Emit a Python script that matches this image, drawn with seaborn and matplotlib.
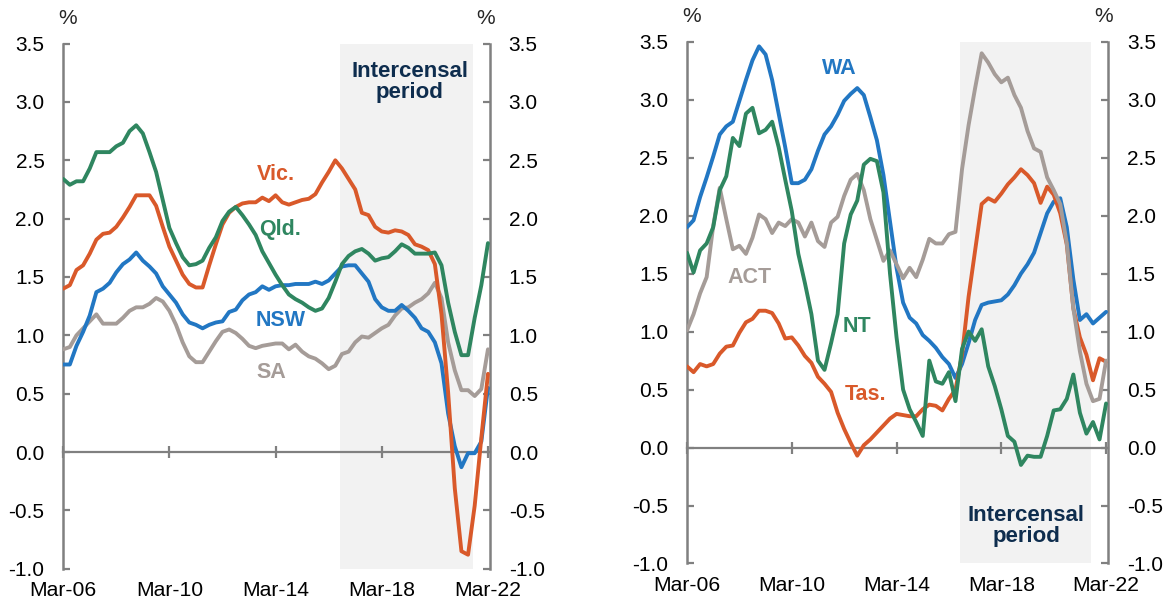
import numpy as np
import pandas as pd
import matplotlib
matplotlib.use("Agg")
import matplotlib.pyplot as plt
from matplotlib.ticker import FormatStrFormatter
import seaborn as sns

# Quarterly observations, Mar-06 to Mar-22
quarters = pd.period_range("2006Q1", "2022Q1", freq="Q")
tick_quarters = ["2006Q1", "2010Q1", "2014Q1", "2018Q1", "2022Q1"]
census_dates = ["2016-08-09", "2021-08-10"]

# Annual population growth, per cent
nsw = [0.75, 0.75, 0.91, 1.03, 1.17, 1.37, 1.40, 1.45, 1.54, 1.61, 1.65, 1.71, 1.64, 1.59, 1.53, 1.42,
       1.35, 1.28, 1.18, 1.11, 1.09, 1.06, 1.09, 1.11, 1.12, 1.20, 1.22, 1.30, 1.35, 1.37, 1.42, 1.39,
       1.42, 1.43, 1.43, 1.44, 1.44, 1.44, 1.46, 1.44, 1.47, 1.53, 1.59, 1.60, 1.60, 1.53, 1.46, 1.31,
       1.24, 1.21, 1.21, 1.26, 1.21, 1.15, 1.06, 1.03, 0.94, 0.76, 0.33, 0.05, -0.13, -0.01, -0.01, 0.09,
       0.55]
vic = [1.40, 1.43, 1.56, 1.60, 1.70, 1.82, 1.87, 1.88, 1.93, 2.01, 2.10, 2.20, 2.20, 2.20, 2.11, 1.93,
       1.76, 1.64, 1.52, 1.44, 1.41, 1.41, 1.60, 1.78, 1.95, 2.05, 2.10, 2.13, 2.14, 2.14, 2.18, 2.15,
       2.20, 2.14, 2.12, 2.14, 2.16, 2.17, 2.21, 2.31, 2.40, 2.50, 2.43, 2.34, 2.25, 2.05, 2.03, 1.93,
       1.89, 1.88, 1.90, 1.89, 1.86, 1.78, 1.76, 1.73, 1.61, 1.18, 0.51, -0.31, -0.85, -0.88, -0.46, 0.12,
       0.67]
qld = [2.34, 2.29, 2.32, 2.32, 2.43, 2.57, 2.57, 2.57, 2.62, 2.65, 2.75, 2.80, 2.73, 2.57, 2.40, 2.16,
       1.92, 1.79, 1.67, 1.60, 1.61, 1.64, 1.75, 1.84, 1.98, 2.06, 2.10, 2.03, 1.95, 1.86, 1.72, 1.62,
       1.52, 1.43, 1.35, 1.31, 1.28, 1.24, 1.21, 1.23, 1.32, 1.46, 1.61, 1.68, 1.72, 1.74, 1.70, 1.64,
       1.66, 1.67, 1.72, 1.78, 1.75, 1.70, 1.70, 1.70, 1.71, 1.60, 1.28, 1.03, 0.83, 0.83, 1.15, 1.43,
       1.79]
sa = [0.88, 0.90, 1.00, 1.06, 1.12, 1.18, 1.10, 1.10, 1.10, 1.15, 1.21, 1.24, 1.24, 1.27, 1.32, 1.29,
      1.21, 1.09, 0.94, 0.82, 0.77, 0.77, 0.86, 0.95, 1.03, 1.05, 1.02, 0.97, 0.91, 0.89, 0.91, 0.92,
      0.93, 0.93, 0.88, 0.92, 0.86, 0.82, 0.80, 0.76, 0.71, 0.74, 0.84, 0.86, 0.94, 0.99, 0.98, 1.02,
      1.06, 1.09, 1.17, 1.23, 1.24, 1.28, 1.31, 1.36, 1.45, 1.32, 0.94, 0.70, 0.53, 0.53, 0.48, 0.54,
      0.88]
wa = [1.90, 1.96, 2.16, 2.33, 2.51, 2.70, 2.77, 2.81, 2.99, 3.17, 3.34, 3.46, 3.39, 3.17, 2.88, 2.59,
      2.28, 2.28, 2.31, 2.40, 2.56, 2.70, 2.77, 2.87, 2.99, 3.05, 3.10, 3.04, 2.85, 2.65, 2.35, 1.95,
      1.55, 1.25, 1.12, 1.07, 0.97, 0.92, 0.86, 0.78, 0.72, 0.60, 0.72, 0.90, 1.10, 1.23, 1.25, 1.26,
      1.27, 1.32, 1.40, 1.50, 1.58, 1.68, 1.85, 2.02, 2.12, 2.15, 1.90, 1.45, 1.10, 1.15, 1.07, 1.12,
      1.17]
tas = [0.70, 0.65, 0.72, 0.70, 0.72, 0.81, 0.87, 0.88, 0.99, 1.08, 1.11, 1.18, 1.18, 1.16, 1.07, 0.94,
       0.95, 0.88, 0.79, 0.73, 0.61, 0.55, 0.48, 0.30, 0.16, 0.04, -0.07, 0.02, 0.07, 0.13, 0.19, 0.25,
       0.29, 0.28, 0.27, 0.27, 0.33, 0.37, 0.36, 0.32, 0.42, 0.50, 0.80, 1.30, 1.70, 2.10, 2.15, 2.12,
       2.19, 2.27, 2.33, 2.40, 2.35, 2.28, 2.11, 2.25, 2.18, 2.02, 1.75, 1.20, 0.95, 0.80, 0.58, 0.77,
       0.74]
nt = [1.68, 1.51, 1.70, 1.76, 1.90, 2.22, 2.34, 2.67, 2.60, 2.88, 2.93, 2.71, 2.74, 2.81, 2.59, 2.31,
      2.04, 1.67, 1.42, 1.15, 0.75, 0.67, 0.90, 1.15, 1.76, 2.01, 2.13, 2.44, 2.49, 2.47, 2.20, 1.50,
      0.95, 0.50, 0.33, 0.22, 0.10, 0.75, 0.57, 0.55, 0.65, 0.40, 0.85, 1.00, 0.92, 1.02, 0.70, 0.53,
      0.33, 0.10, 0.05, -0.15, -0.07, -0.08, -0.08, 0.10, 0.32, 0.33, 0.42, 0.63, 0.30, 0.12, 0.22, 0.07,
      0.38]
act = [1.01, 1.15, 1.33, 1.47, 1.91, 2.24, 1.97, 1.71, 1.74, 1.67, 1.81, 2.01, 1.97, 1.85, 1.94, 1.91,
       1.97, 1.94, 1.82, 1.94, 1.78, 1.73, 1.94, 1.99, 2.17, 2.31, 2.36, 2.22, 1.97, 1.79, 1.61, 1.70,
       1.58, 1.46, 1.55, 1.47, 1.62, 1.80, 1.76, 1.76, 1.84, 1.86, 2.40, 2.78, 3.10, 3.40, 3.32, 3.22,
       3.15, 3.19, 3.04, 2.93, 2.73, 2.58, 2.55, 2.33, 2.22, 2.10, 1.76, 1.20, 0.83, 0.55, 0.40, 0.42,
       0.75]

BLUE = "#2277c3"
ORANGE = "#d9592a"
GREEN = "#2f8660"
GREY = "#a59c98"
NAVY = "#0e2d4e"
AXIS_GREY = "#808080"
SHADE = "#f2f2f2"

sns.set_theme(style="white")
plt.rcParams["font.family"] = ["Liberation Sans", "DejaVu Sans"]

pos = np.arange(len(quarters))
period_index = {str(q): i for i, q in enumerate(quarters)}
tick_pos = [period_index[q] for q in tick_quarters]
tick_labels = [quarters[p].end_time.strftime("%b-%y") for p in tick_pos]


def quarter_position(date_str):
    d = pd.Timestamp(date_str)
    return (d.year - 2006) * 4 + (d.month - 3) / 3 + (d.day - 1) / 91


span = [quarter_position(d) for d in census_dates]


def long_frame(series):
    return pd.concat(
        [pd.DataFrame({"pos": pos, "value": vals, "state": name}) for name, vals in series.items()],
        ignore_index=True,
    )


def style_panel(ax):
    ax.set_xlim(0, 64.3)
    ax.set_ylim(-1.0, 3.5)
    ax.set_yticks(np.arange(-1.0, 3.51, 0.5))
    ax.yaxis.set_major_formatter(FormatStrFormatter("%.1f"))
    ax.set_xlabel("")
    ax.set_ylabel("")
    for side in ("left", "right"):
        ax.spines[side].set_color(AXIS_GREY)
        ax.spines[side].set_linewidth(1.8)
    ax.spines["top"].set_visible(False)
    ax.spines["bottom"].set_position(("data", 0))
    ax.spines["bottom"].set_color(AXIS_GREY)
    ax.spines["bottom"].set_linewidth(1.6)
    ax.tick_params(axis="y", direction="in", length=5, width=1.6, color=AXIS_GREY,
                   left=True, right=True, labelleft=True, labelright=True,
                   labelsize=15, labelcolor="black", pad=13.5)
    ax.set_xticks(tick_pos)
    ax.tick_params(axis="x", direction="inout", length=9, width=1.6, color=AXIS_GREY,
                   bottom=True, labelbottom=False)
    sec = ax.secondary_xaxis("bottom")
    sec.set_xticks(tick_pos, labels=tick_labels)
    sec.tick_params(length=0, pad=9, labelsize=15.2, labelcolor="black")
    sec.spines["bottom"].set_visible(False)
    ax.text(0.01, 1.048, "%", transform=ax.transAxes, ha="center", va="center", fontsize=15)
    ax.text(0.99, 1.048, "%", transform=ax.transAxes, ha="center", va="center", fontsize=15)


def draw_panel(ax, series, palette, labels, census_text):
    ax.axvspan(span[0], span[1], color=SHADE, lw=0, zorder=0)
    df = long_frame(series)
    sns.lineplot(data=df, x="pos", y="value", hue="state", hue_order=list(series.keys()),
                 palette=palette, linewidth=2.8, legend=False, ax=ax, zorder=3)
    for text, x, y, color in labels:
        ax.text(x, y, text, color=color, fontsize=15.5, fontweight="bold",
                ha="center", va="center", zorder=4)
    x, y = census_text
    ax.text(x, y, "Intercensal\nperiod", color=NAVY, fontsize=16, fontweight="bold",
            ha="center", va="center", linespacing=1.0, zorder=4)
    style_panel(ax)


fig = plt.figure(figsize=(11.66, 6.08), dpi=100)
ax_left = fig.add_axes([0.0542, 0.0646, 0.3660, 0.8637])
ax_right = fig.add_axes([0.5892, 0.0732, 0.3611, 0.8582])

draw_panel(
    ax_left,
    {"SA": sa, "NSW": nsw, "Vic.": vic, "Qld.": qld},
    {"SA": GREY, "NSW": BLUE, "Vic.": ORANGE, "Qld.": GREEN},
    [("Vic.", 32.0, 2.38, ORANGE), ("Qld.", 32.7, 1.91, GREEN),
     ("NSW", 32.7, 1.13, BLUE), ("SA", 31.3, 0.68, GREY)],
    (52.2, 3.17),
)
draw_panel(
    ax_right,
    {"WA": wa, "Tas.": tas, "ACT": act, "NT": nt},
    {"WA": BLUE, "Tas.": ORANGE, "ACT": GREY, "NT": GREEN},
    [("WA", 23.3, 3.27, BLUE), ("ACT", 9.5, 1.47, GREY),
     ("NT", 25.9, 1.04, GREEN), ("Tas.", 27.3, 0.46, ORANGE)],
    (51.8, -0.68),
)

fig.savefig("out.png", dpi=100)
